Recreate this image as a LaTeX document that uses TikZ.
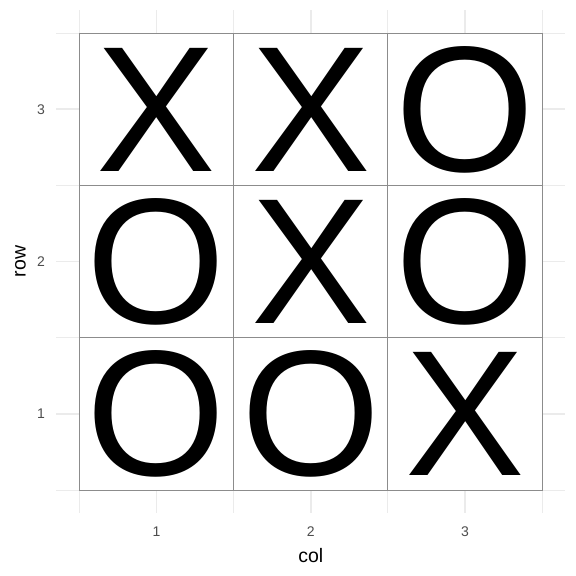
\documentclass[tikz,border=0pt]{standalone}
\usepackage{fontspec}
\setmainfont{Liberation Sans}
\definecolor{gridmaj}{HTML}{EBEBEB}
\definecolor{tickgrey}{HTML}{4D4D4D}
\definecolor{tileborder}{HTML}{8C8C8C}
\begin{document}
\begin{tikzpicture}[x=1pt,y=-1pt,
  majgrid/.style={draw=gridmaj,line width=1.6pt},
  mingrid/.style={draw=gridmaj,line width=0.8pt},
  tilebox/.style={draw=tileborder,fill=white,line width=0.8pt},
  glyphtxt/.style={inner sep=0pt,font=\fontsize{179}{180}\selectfont},
  ticklab/.style={inner sep=0pt,text=tickgrey,font=\fontsize{14}{16}\selectfont},
  axtitle/.style={inner sep=0pt,font=\fontsize{19.5}{22}\selectfont}]
\useasboundingbox (0,0) rectangle (576,576);
\fill[white] (0,0) rectangle (576,576);
% minor grid
\foreach \x in {79.5,233.7,387.8,542} \draw[mingrid] (\x,10.2) -- (\x,512.9);
\foreach \y in {490,337.7,185.3,33} \draw[mingrid] (56.4,\y) -- (565.2,\y);
% major grid
\foreach \x in {156.6,310.75,464.9} \draw[majgrid] (\x,10.2) -- (\x,512.9);
\foreach \y in {413.8,261.5,109.2} \draw[majgrid] (56.4,\y) -- (565.2,\y);
% tiles
\foreach \xa/\xb in {79.5/233.7,233.7/387.8,387.8/542}
  \foreach \ya/\yb in {33/185.3,185.3/337.7,337.7/490}
    \draw[tilebox] (\xa,\ya) rectangle (\xb,\yb);
% marks
\node[glyphtxt] (c13) at (156.6,109.7) {X};
\node[glyphtxt] (c23) at (310.75,109.7) {X};
\node[glyphtxt] (c33) at (464.9,109.7) {O};
\node[glyphtxt] (c12) at (156.6,262) {O};
\node[glyphtxt] (c22) at (310.75,262) {X};
\node[glyphtxt] (c32) at (464.9,262) {O};
\node[glyphtxt] (c11) at (156.6,414.3) {O};
\node[glyphtxt] (c21) at (310.75,414.3) {O};
\node[glyphtxt] (c31) at (464.9,414.3) {X};
% tick labels
\node[ticklab,anchor=east] (y3) at (45,109.2) {3};
\node[ticklab,anchor=east] (y2) at (45,261.5) {2};
\node[ticklab,anchor=east] (y1) at (45,413.8) {1};
\node[ticklab,anchor=north] (x1) at (156.6,526.7) {1};
\node[ticklab,anchor=north] (x2) at (310.75,526.7) {2};
\node[ticklab,anchor=north] (x3) at (464.9,526.7) {3};
% axis titles
\node[axtitle,anchor=base] (xt) at (310.75,562.7) {col};
\node[axtitle,anchor=base,rotate=90] (yt) at (25.5,261.5) {row};
\end{tikzpicture}
\end{document}
